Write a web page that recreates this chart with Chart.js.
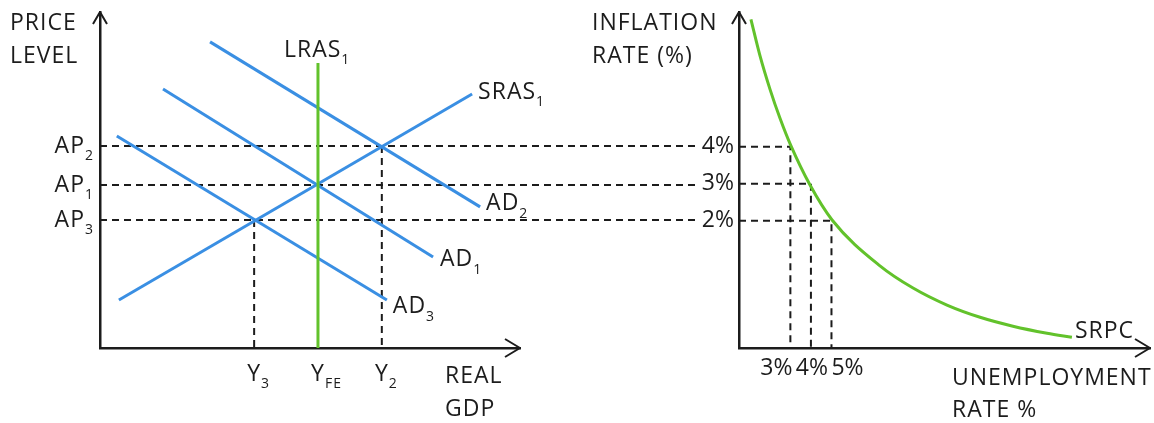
<!DOCTYPE html>
<html>
<head>
<meta charset="utf-8">
<script src="https://cdn.jsdelivr.net/npm/chart.js@4.4.1/dist/chart.umd.min.js"></script>
<style>
  html, body { margin: 0; padding: 0; background: #fff; }
  #wrap { position: relative; width: 1154px; height: 423px; overflow: hidden; }
  #left { position: absolute; left: 0; top: 0; }
  #right { position: absolute; left: 580px; top: 0; }
</style>
</head>
<body>
<div id="wrap">
  <canvas id="left" width="700" height="423" style="width:700px;height:423px"></canvas>
  <canvas id="right" width="574" height="423" style="width:574px;height:423px"></canvas>
</div>
<script>
// ===== AD / AS diagram (arbitrary units, 0-100 on both axes) =====
const ad2 = [{ x: 26.2, y: 91.1 }, { x: 90.5, y: 42.0 }];
const ad1 = [{ x: 15.0, y: 77.1 }, { x: 79.3, y: 27.1 }];
const ad3 = [{ x: 4.0, y: 63.1 }, { x: 68.3, y: 14.3 }];
const sras = [{ x: 4.5, y: 14.3 }, { x: 88.6, y: 75.6 }];
const lras = [{ x: 51.9, y: 84.8 }, { x: 51.9, y: 0 }];

const priceLevels = [60.1, 48.5, 38.1];          // AP2, AP1, AP3
const priceNames = [['AP', '2'], ['AP', '1'], ['AP', '3']];
const outputs = [36.7, 51.9, 67.1];               // Y3, YFE, Y2
const outputNames = [['Y', '3'], ['Y', 'FE'], ['Y', '2']];
const outputLevels = [38.1, 48.5, 60.1];          // price level at each output
const dashReach = 142;                            // horizontal guides run across to the SRPC panel

// ===== Short-run Phillips curve =====
const unempTicks = [3, 4, 5];
const inflTicks = [4, 3, 2];
const srpcX = [1.08, 1.52, 2.01, 2.50, 3.03, 3.95, 5.03, 7.36, 8.97, 10.62, 12.23, 13.83, 15.49, 16.70];
const srpcY = [7.44, 6.46, 5.55, 4.76, 4.02, 2.97, 2.02, 0.78, 0.18, -0.28, -0.61, -0.85, -1.04, -1.15];

const BLUE = '#3a8fe3';
const GREEN = '#62c22b';
const INK = '#1c1c1c';
const FONT = '"Open Sans", sans-serif';
const MAIN_PX = 23;
const SUB_PX = 14;
const unempLabelShift = [-14, 1, 16];   // hand-drawn labels are spread wider than the ticks

function axisScale(min, max) {
  return {
    type: 'linear', min, max,
    grid: { display: false, drawTicks: false },
    ticks: { display: false },
    border: { display: true, color: INK, width: 2.5 },
    afterFit: s => { if (s.isHorizontal()) s.height = 0; else s.width = 0; }
  };
}

function line(data, color, width, dash) {
  return {
    data, showLine: true, borderColor: color, borderWidth: width,
    borderDash: dash || [], pointRadius: 0, fill: false, clip: false
  };
}

// text with a subscript; align: 'left' | 'right' | 'center' (center = centre of main part)
function subText(ctx, x, y, main, sub, align) {
  ctx.font = MAIN_PX + 'px ' + FONT;
  const mw = ctx.measureText(main).width;
  ctx.font = SUB_PX + 'px ' + FONT;
  const sw = sub ? ctx.measureText(sub).width : 0;
  let x0 = x;
  if (align === 'right') x0 = x - mw - sw;
  if (align === 'center') x0 = x - mw / 2;
  ctx.textAlign = 'left';
  ctx.font = MAIN_PX + 'px ' + FONT;
  ctx.fillText(main, x0, y);
  if (sub) {
    ctx.font = SUB_PX + 'px ' + FONT;
    ctx.fillText(sub, x0 + mw, y + 10);
  }
}

function arrows(ctx, area) {
  ctx.save();
  ctx.strokeStyle = INK;
  ctx.lineWidth = 2;
  ctx.lineJoin = 'round';
  ctx.beginPath();
  ctx.moveTo(area.left - 7, area.top + 12);
  ctx.lineTo(area.left, area.top);
  ctx.lineTo(area.left + 7, area.top + 12);
  ctx.moveTo(area.right - 15, area.bottom - 9);
  ctx.lineTo(area.right, area.bottom);
  ctx.lineTo(area.right - 15, area.bottom + 9);
  ctx.stroke();
  ctx.restore();
}

// ===== Left chart =====
const leftLabels = {
  id: 'leftLabels',
  afterDraw(chart) {
    const { ctx, chartArea, scales: { x, y } } = chart;
    arrows(ctx, chartArea);
    ctx.save();
    ctx.fillStyle = INK;
    ctx.textBaseline = 'middle';
    ctx.letterSpacing = '1px';
    priceLevels.forEach((p, i) => subText(ctx, chartArea.left - 6, y.getPixelForValue(p), priceNames[i][0], priceNames[i][1], 'right'));
    outputs.forEach((o, i) => subText(ctx, x.getPixelForValue(o), chartArea.bottom + 26, outputNames[i][0], outputNames[i][1], 'center'));
    const end = d => ({ px: x.getPixelForValue(d[1].x), py: y.getPixelForValue(d[1].y) });
    let e = end(ad2); subText(ctx, e.px + 6, e.py - 3, 'AD', '2', 'left');
    e = end(ad1); subText(ctx, e.px + 7, e.py + 3, 'AD', '1', 'left');
    e = end(ad3); subText(ctx, e.px + 6, e.py + 7, 'AD', '3', 'left');
    e = end(sras); subText(ctx, e.px + 6, e.py - 2, 'SRAS', '1', 'left');
    const lx = x.getPixelForValue(lras[0].x), ly = y.getPixelForValue(lras[0].y);
    subText(ctx, lx - 34, ly - 13, 'LRAS', '1', 'left');
    subText(ctx, 10, 23, 'PRICE', '', 'left');
    subText(ctx, 10, 56, 'LEVEL', '', 'left');
    subText(ctx, 445, 376, 'REAL', '', 'left');
    subText(ctx, 445, 409, 'GDP', '', 'left');
    ctx.restore();
  }
};

const guideSets = [];
priceLevels.forEach(p => guideSets.push(line([{ x: 0, y: p }, { x: dashReach, y: p }], INK, 2, [7, 5])));
[0, 2].forEach(i => guideSets.push(line([{ x: outputs[i], y: outputLevels[i] }, { x: outputs[i], y: 0 }], INK, 2, [7, 5])));

new Chart(document.getElementById('left'), {
  type: 'scatter',
  data: {
    datasets: [
      line(lras, GREEN, 3),
      line(ad2, BLUE, 3),
      line(ad1, BLUE, 3),
      line(ad3, BLUE, 3),
      line(sras, BLUE, 3),
      ...guideSets
    ]
  },
  options: {
    responsive: false,
    animation: false,
    layout: { padding: { left: 100, right: 180, top: 12, bottom: 75 } },
    plugins: { legend: { display: false }, tooltip: { enabled: false } },
    scales: { x: axisScale(0, 100), y: axisScale(0, 100) }
  },
  plugins: [leftLabels]
});

// ===== Right chart =====
const X_MIN = 0.5, X_MAX = 20.5, Y_MIN = -1.44, Y_MAX = 7.64;

const rightLabels = {
  id: 'rightLabels',
  afterDraw(chart) {
    const { ctx, chartArea, scales: { x, y } } = chart;
    arrows(ctx, chartArea);
    ctx.save();
    ctx.fillStyle = INK;
    ctx.textBaseline = 'middle';
    ctx.letterSpacing = '0px';
    inflTicks.forEach(v => subText(ctx, chartArea.left - 5, y.getPixelForValue(v), v + '%', '', 'right'));
    ctx.font = MAIN_PX + 'px ' + FONT;
    ctx.textAlign = 'center';
    unempTicks.forEach((v, i) => ctx.fillText(v + '%', x.getPixelForValue(v) + unempLabelShift[i], chartArea.bottom + 20));
    ctx.letterSpacing = '1px';
    const last = srpcX.length - 1;
    subText(ctx, x.getPixelForValue(srpcX[last]) + 3, y.getPixelForValue(srpcY[last]) - 6, 'SRPC', '', 'left');
    subText(ctx, 12, 23, 'INFLATION', '', 'left');
    subText(ctx, 12, 56, 'RATE (%)', '', 'left');
    subText(ctx, 372, 378, 'UNEMPLOYMENT', '', 'left');
    subText(ctx, 372, 410, 'RATE %', '', 'left');
    ctx.restore();
  }
};

const srpc = srpcX.map((v, i) => ({ x: v, y: srpcY[i] }));
const rightGuides = unempTicks.map((u, i) =>
  line([{ x: X_MIN, y: inflTicks[i] }, { x: u, y: inflTicks[i] }, { x: u, y: Y_MIN }], INK, 2, [7, 5]));

new Chart(document.getElementById('right'), {
  type: 'scatter',
  data: {
    datasets: [
      Object.assign(line(srpc, GREEN, 3), { cubicInterpolationMode: 'monotone' }),
      ...rightGuides
    ]
  },
  options: {
    responsive: false,
    animation: false,
    layout: { padding: { left: 159, right: 4, top: 12, bottom: 75 } },
    plugins: { legend: { display: false }, tooltip: { enabled: false } },
    scales: { x: axisScale(X_MIN, X_MAX), y: axisScale(Y_MIN, Y_MAX) }
  },
  plugins: [rightLabels]
});
</script>
</body>
</html>
